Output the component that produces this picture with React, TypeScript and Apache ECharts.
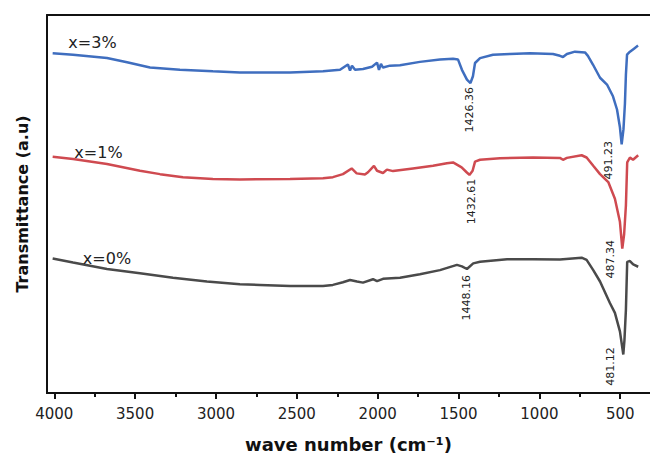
import React, { useEffect, useRef } from "react";
import * as echarts from "echarts";

// Tick values on the wavenumber axis
const majorTicks = [4000, 3500, 3000, 2500, 2000, 1500, 1000, 500];
const minorTicks = [3750, 3250, 2750, 2250, 1750, 1250, 750];

// x = 3 %
const waveBlue = [4010, 3884, 3674, 3550, 3408, 3223, 3019, 2852, 2542, 2338, 2233, 2184, 2171, 2159, 2140, 2091, 2035, 2004, 1992, 1980, 1967, 1924, 1862, 1739, 1615, 1534, 1503, 1479, 1448, 1426.36, 1411, 1398, 1367, 1287, 1182, 1058, 916, 873, 854, 830, 780, 718, 700, 669, 625, 582, 545, 520, 502, 491.23, 480, 471, 465, 458, 440, 415, 390];
const transBlue = [89.9, 89.5, 88.6, 87.5, 86.1, 85.5, 85.1, 84.8, 84.8, 85.1, 85.5, 86.9, 85.3, 86.6, 85.5, 85.7, 86.3, 87.4, 85.5, 87.1, 86.1, 86.6, 86.7, 87.6, 88.2, 88.4, 88.2, 85.5, 82.9, 82.0, 83.8, 87.3, 88.6, 89.5, 89.7, 89.9, 89.7, 89.2, 88.9, 89.7, 90.3, 90.1, 89.2, 86.9, 83.4, 81.6, 78.5, 75.0, 70.3, 65.8, 69.8, 76.6, 84.2, 89.5, 90.3, 91.1, 91.9];

// x = 1 %
const waveRed = [4010, 3884, 3674, 3470, 3346, 3204, 3019, 2852, 2542, 2338, 2277, 2215, 2161, 2130, 2079, 2060, 2023, 2004, 1967, 1943, 1905, 1782, 1658, 1572, 1534, 1481, 1450, 1432.61, 1413, 1398, 1367, 1244, 1040, 873, 854, 830, 739, 708, 667, 625, 574, 533, 502, 487.34, 476, 465, 457, 440, 421, 389];
const transRed = [62.5, 61.9, 60.6, 58.8, 57.9, 57.1, 56.6, 56.5, 56.6, 56.8, 57.1, 57.9, 59.4, 58.1, 57.8, 58.4, 60.1, 58.8, 58.2, 59.1, 58.7, 59.4, 60.1, 60.8, 61.0, 59.7, 58.4, 57.7, 58.8, 61.2, 61.7, 62.1, 62.3, 62.2, 61.7, 62.2, 62.9, 62.3, 60.1, 57.9, 55.8, 51.4, 45.3, 38.2, 42.0, 49.6, 61.0, 62.3, 61.7, 62.9];

// x = 0 %
const waveGray = [4010, 3884, 3674, 3470, 3266, 3056, 2852, 2728, 2542, 2338, 2277, 2215, 2171, 2128, 2091, 2029, 2004, 1967, 1862, 1739, 1615, 1510, 1479, 1448.16, 1409, 1367, 1200, 1040, 873, 739, 708, 667, 625, 564, 533, 502, 481.12, 474, 465, 457, 440, 420, 389];
const transGray = [35.6, 34.5, 32.8, 31.7, 30.5, 29.5, 28.8, 28.6, 28.3, 28.3, 28.6, 29.3, 29.9, 29.5, 29.2, 30.1, 29.6, 30.2, 30.5, 31.4, 32.5, 33.9, 33.5, 32.8, 34.3, 34.7, 35.4, 35.4, 35.3, 35.8, 35.2, 32.5, 29.5, 23.8, 21.2, 16.3, 10.2, 14.0, 22.0, 34.7, 34.9, 34.0, 33.4];

const seriesNames = ["x=3%", "x=1%", "x=0%"];
const seriesColors = ["#3F6EBF", "#CF4A50", "#4A4A4A"];

// Peak annotations
const peaksBlue = [1426.36, 491.23];
const peaksRed = [1432.61, 487.34];
const peaksGray = [1448.16, 481.12];

const FONT = "DejaVu Sans";
const TEXT_COLOR = "#222";

function pairs(xs: number[], ys: number[]) {
  return xs.map((x, i) => [x, ys[i]]);
}

function peakPoint(xs: number[], ys: number[], wave: number, pos: number[]) {
  const i = xs.indexOf(wave);
  return {
    coord: [wave, ys[i]],
    label: {
      show: true,
      formatter: wave.toFixed(2),
      rotate: 90,
      position: pos,
      align: "right",
      verticalAlign: "middle",
      fontSize: 11,
      fontFamily: FONT,
      color: TEXT_COLOR,
    },
  };
}

function namePoint(xs: number[], ys: number[], name: string, pos: number[]) {
  return {
    coord: [xs[0], ys[0]],
    label: {
      show: true,
      formatter: name,
      position: pos,
      align: "center",
      verticalAlign: "middle",
      fontSize: 16,
      fontFamily: FONT,
      color: TEXT_COLOR,
    },
  };
}

function makeSeries(
  idx: number,
  xs: number[],
  ys: number[],
  peaks: number[],
  namePos: number[],
  peakPos: number[][]
) {
  return {
    type: "line",
    name: seriesNames[idx],
    xAxisIndex: 0,
    data: pairs(xs, ys),
    showSymbol: false,
    smooth: false,
    lineStyle: { color: seriesColors[idx], width: 2.5 },
    itemStyle: { color: seriesColors[idx] },
    markPoint: {
      symbol: "circle",
      symbolSize: 2,
      silent: true,
      itemStyle: { color: "rgba(0,0,0,0)" },
      data: [
        namePoint(xs, ys, seriesNames[idx], namePos),
        peakPoint(xs, ys, peaks[0], peakPos[0]),
        peakPoint(xs, ys, peaks[1], peakPos[1]),
      ],
    },
  };
}

export default function App() {
  const ref = useRef<HTMLDivElement>(null);

  useEffect(() => {
    if (!ref.current) return;
    const chart = echarts.init(ref.current, null, { renderer: "svg" });
    const axisRange = { type: "value", inverse: true, min: 316, max: 4045 };
    const option: any = {
      animation: false,
      backgroundColor: "#ffffff",
      grid: { left: 47, right: 0, top: 15, bottom: 62 },
      xAxis: [
        {
          ...axisRange,
          position: "bottom",
          name: "wave number (cm\u207B\u00B9)",
          nameLocation: "middle",
          nameGap: 42,
          nameTextStyle: { fontSize: 18, fontWeight: "bold", fontFamily: FONT, color: "#111" },
          axisLine: { show: true, onZero: false, lineStyle: { color: "#111", width: 2 } },
          axisTick: {
            show: true,
            customValues: majorTicks,
            length: 6,
            inside: false,
            lineStyle: { color: "#111", width: 2 },
          },
          axisLabel: {
            show: true,
            customValues: majorTicks,
            formatter: (v: number) => String(v),
            fontSize: 15,
            fontFamily: FONT,
            color: TEXT_COLOR,
            margin: 13,
          },
          splitLine: { show: false },
        },
        {
          ...axisRange,
          position: "bottom",
          offset: 0,
          axisLine: { show: true, onZero: false, lineStyle: { color: "#111", width: 2 } },
          axisTick: {
            show: true,
            customValues: minorTicks,
            length: 4,
            inside: false,
            lineStyle: { color: "#111", width: 2 },
          },
          axisLabel: { show: false },
          splitLine: { show: false },
        },
        {
          ...axisRange,
          position: "top",
          axisLine: { show: true, onZero: false, lineStyle: { color: "#111", width: 2 } },
          axisTick: { show: false },
          axisLabel: { show: false },
          splitLine: { show: false },
        },
      ],
      yAxis: {
        type: "value",
        min: 0,
        max: 100,
        name: "Transmittance (a.u)",
        nameLocation: "middle",
        nameRotate: 90,
        nameGap: 17,
        nameTextStyle: { fontSize: 16, fontWeight: "bold", fontFamily: FONT, color: "#111" },
        axisLine: { show: true, lineStyle: { color: "#111", width: 2 } },
        axisTick: { show: false },
        axisLabel: { show: false },
        splitLine: { show: false },
      },
      series: [
        makeSeries(0, waveBlue, transBlue, peaksBlue, [40.8, -9.8], [[0.5, 4.9], [-12.2, -2.3]]),
        makeSeries(1, waveRed, transRed, peaksRed, [46.8, -3.2], [[3, 4.8], [-10.3, -7.5]]),
        makeSeries(2, waveGray, transGray, peaksGray, [55.3, 1.1], [[1, 7], [-11.3, -6.1]]),
      ],
    };
    chart.setOption(option);
    return () => chart.dispose();
  }, []);

  return (
    <div
      ref={ref}
      style={{ position: "fixed", left: 0, top: 0, width: 650, height: 458 }}
    />
  );
}
